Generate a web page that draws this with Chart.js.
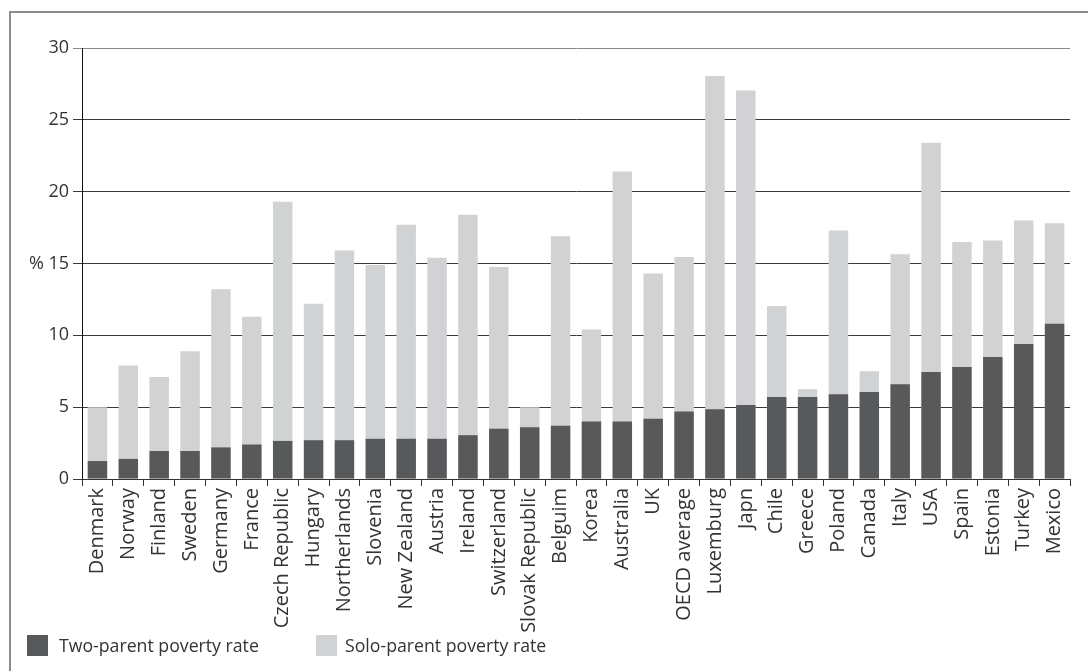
<!DOCTYPE html>
<html>
<head>
<meta charset="utf-8">
<script src="https://cdn.jsdelivr.net/npm/chart.js@4"></script>
<style>
  body { margin: 0; background: #fff; font-family: "Open Sans", sans-serif; }
  #wrap { position: relative; width: 1088px; height: 671px; overflow: hidden; }
  #frame { position: absolute; left: 9px; top: 11px; width: 1100px; height: 700px;
           border-top: 2px solid #8c8c8c; border-left: 2px solid #8c8c8c; }
  .key { position: absolute; top: 635px; width: 21px; height: 21px; }
  .keytext { position: absolute; top: 633px; font-size: 17.7px; color: #333; line-height: 24px; }
</style>
</head>
<body>
<div id="wrap">
  <div id="frame"></div>
  <canvas id="povertyChart" width="1088" height="671" style="position:absolute;left:0;top:0;"></canvas>
  <div class="key" style="left:27px;background:#58595b;"></div>
  <div class="keytext" style="left:59px;">Two-parent poverty rate</div>
  <div class="key" style="left:316px;background:#d1d2d4;"></div>
  <div class="keytext" style="left:345px;">Solo-parent poverty rate</div>
</div>
<script>
const countries = [
  'Denmark', 'Norway', 'Finland', 'Sweden', 'Germany', 'France', 'Czech Republic',
  'Hungary', 'Northerlands', 'Slovenia', 'New Zealand', 'Austria', 'Ireland',
  'Switzerland', 'Slovak Republic', 'Belguim', 'Korea', 'Australia', 'UK',
  'OECD average', 'Luxemburg', 'Japn', 'Chile', 'Greece', 'Poland', 'Canada',
  'Italy', 'USA', 'Spain', 'Estonia', 'Turkey', 'Mexico'
];

const twoParent = [
  1.25, 1.4, 1.95, 1.95, 2.2, 2.4, 2.65, 2.7, 2.7, 2.8, 2.8, 2.8, 3.05,
  3.5, 3.6, 3.7, 4.0, 4.0, 4.2, 4.7, 4.85, 5.15, 5.7, 5.7, 5.9, 6.05,
  6.6, 7.45, 7.8, 8.5, 9.4, 10.8
];
const soloParent = [
  5.0, 7.9, 7.1, 8.9, 13.2, 11.3, 19.3, 12.2, 15.9, 14.9, 17.7, 15.4, 18.4,
  14.75, 5.0, 16.9, 10.4, 21.4, 14.3, 15.45, 28.05, 27.05, 12.05, 6.25, 17.3, 7.5,
  15.65, 23.4, 16.5, 16.6, 18.0, 17.8
];
const yTicks = [0, 5, 10, 15, 20, 25, 30];

// "%" beside the 15 tick
const percentLabel = {
  id: 'percentLabel',
  afterDraw(chart) {
    const ctx = chart.ctx;
    const y = chart.scales.y.getPixelForValue(15);
    ctx.save();
    ctx.font = '18px "Open Sans"';
    ctx.fillStyle = '#333';
    ctx.textAlign = 'right';
    ctx.textBaseline = 'middle';
    ctx.fillText('%', 44, y);
    ctx.restore();
  }
};

const ctx = document.getElementById('povertyChart').getContext('2d');
new Chart(ctx, {
  type: 'bar',
  data: {
    labels: countries,
    datasets: [
      {
        label: 'Two-parent poverty rate',
        data: twoParent,
        backgroundColor: '#58595b',
        borderWidth: 0,
        barPercentage: 0.63,
        categoryPercentage: 1
      },
      {
        label: 'Solo-parent poverty rate',
        data: soloParent,
        backgroundColor: '#d1d2d4',
        borderWidth: 0,
        barPercentage: 0.63,
        categoryPercentage: 1
      }
    ]
  },
  options: {
    responsive: false,
    animation: false,
    layout: { padding: { left: 10, right: 18, top: 48, bottom: 0 } },
    plugins: {
      legend: { display: false },
      tooltip: { enabled: false }
    },
    scales: {
      x: {
        stacked: true,
        afterFit(scale) { scale.height = 192; },
        grid: { drawOnChartArea: false, offset: true, tickLength: 7, color: '#333' },
        border: { color: '#333' },
        ticks: {
          minRotation: 90, maxRotation: 90, autoSkip: false, padding: 2,
          color: '#333', font: { family: 'Open Sans', size: 20 }
        }
      },
      y: {
        stacked: false,
        min: 0, max: 30,
        afterFit(scale) { scale.width = 72; },
        afterBuildTicks(scale) { scale.ticks = yTicks.map(v => ({ value: v })); },
        grid: {
          color: c => (c.tick && c.tick.value === 30 ? '#8a8a8a' : '#3a3a3a'),
          tickLength: 9
        },
        border: { color: '#111' },
        ticks: { padding: 4, color: '#333', font: { family: 'Open Sans', size: 18 } }
      }
    }
  },
  plugins: [percentLabel]
});
</script>
</body>
</html>
